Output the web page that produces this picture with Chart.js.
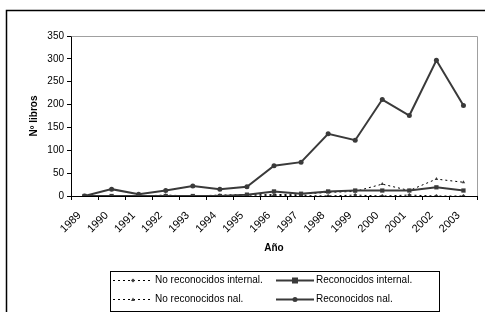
<!DOCTYPE html>
<html>
<head>
<meta charset="utf-8">
<script src="https://cdn.jsdelivr.net/npm/chart.js@4/dist/chart.umd.min.js"></script>
<style>
  html, body { margin: 0; padding: 0; background: #fff; }
  #wrap { width: 485px; height: 312px; position: relative; }
</style>
</head>
<body>
<div id="wrap"><canvas id="c" width="485" height="312"></canvas></div>
<script>
const years = ['1989','1990','1991','1992','1993','1994','1995','1996','1997','1998','1999','2000','2001','2002','2003'];
const noRecInternal = [0, 0, 0, 0, 0, 0, 0, 1, 1, 0, 2, 0, 2, 0, 0];
const recInternal   = [0, 0, 0, 0, 0, 0, 3, 10, 5, 10, 12, 12, 12, 19, 12];
const noRecNal      = [0, 0, 0, 2, 0, 2, 3, 3, 4, 8, 10, 26, 12, 37, 30];
const recNal        = [0, 15, 4, 12, 22, 15, 20, 66, 74, 136, 122, 211, 176, 297, 198];
const yTicks = [0, 50, 100, 150, 200, 250, 300, 350];
const labels = ['No reconocidos internal.', 'Reconocidos internal.', 'No reconocidos nal.', 'Reconocidos nal.'];

const FONT = "'Liberation Sans', Arial, sans-serif";
const DARK = '#3a3a3a';

function drawMarker(ctx, style, x, y, r, color) {
  ctx.save();
  ctx.fillStyle = color;
  ctx.strokeStyle = color;
  ctx.beginPath();
  if (style === 'rect') {
    ctx.rect(x - r, y - r, 2 * r, 2 * r);
  } else if (style === 'circle') {
    ctx.arc(x, y, r, 0, Math.PI * 2);
  } else if (style === 'rectRot') {
    ctx.moveTo(x, y - r); ctx.lineTo(x + r, y); ctx.lineTo(x, y + r); ctx.lineTo(x - r, y); ctx.closePath();
  } else if (style === 'triangle') {
    ctx.moveTo(x, y - r); ctx.lineTo(x + r, y + r * 0.8); ctx.lineTo(x - r, y + r * 0.8); ctx.closePath();
  }
  ctx.fill();
  ctx.restore();
}

const framePlugin = {
  id: 'frame',
  beforeDraw(chart) {
    const ctx = chart.ctx;
    ctx.save();
    ctx.fillStyle = '#fff';
    ctx.fillRect(0, 0, chart.width, chart.height);
    ctx.strokeStyle = '#000';
    ctx.lineWidth = 1.5;
    ctx.beginPath();
    ctx.moveTo(6.5, 312);
    ctx.lineTo(6.5, 10.5);
    ctx.lineTo(485, 10.5);
    ctx.stroke();
    ctx.restore();
  },
  beforeDatasetsDraw(chart) {
    const a = chart.chartArea;
    const ctx = chart.ctx;
    ctx.save();
    ctx.strokeStyle = '#a0a0a0';
    ctx.lineWidth = 1;
    ctx.beginPath();
    ctx.moveTo(Math.round(a.left) + 0.5, Math.round(a.top) + 0.5);
    ctx.lineTo(Math.round(a.right) + 0.5, Math.round(a.top) + 0.5);
    ctx.lineTo(Math.round(a.right) + 0.5, Math.round(a.bottom));
    ctx.stroke();
    ctx.restore();
  },
  afterDraw(chart) {
    const ctx = chart.ctx;
    ctx.save();
    ctx.strokeStyle = '#000';
    ctx.lineWidth = 1;
    ctx.strokeRect(110.5, 271.5, 329, 40);
    const cols = [{x0: 113, x1: 153, t: 155}, {x0: 276, x1: 314, t: 316}];
    const rows = [280, 299];
    ctx.font = '10px ' + FONT;
    ctx.textBaseline = 'middle';
    ctx.textAlign = 'left';
    chart.data.datasets.forEach((ds, i) => {
      const c = cols[i % 2];
      const y = rows[Math.floor(i / 2)];
      ctx.save();
      ctx.strokeStyle = ds.borderColor;
      ctx.lineWidth = ds.borderWidth;
      ctx.setLineDash(ds.borderDash || []);
      ctx.beginPath();
      ctx.moveTo(c.x0, y + 0.5);
      ctx.lineTo(c.x1, y + 0.5);
      ctx.stroke();
      ctx.restore();
      drawMarker(ctx, ds.pointStyle, (c.x0 + c.x1) / 2, y + 0.5, ds.pointRadius, ds.pointBackgroundColor);
      ctx.fillStyle = '#000';
      ctx.fillText(ds.label, c.t, y + 0.5);
    });
    ctx.restore();
  }
};

new Chart(document.getElementById('c'), {
  type: 'line',
  data: {
    labels: years,
    datasets: [
      { label: labels[0], data: noRecInternal, borderColor: '#000', borderWidth: 1, borderDash: [2, 3],
        pointStyle: 'rectRot', pointRadius: 2, pointBackgroundColor: DARK, pointBorderColor: DARK, pointBorderWidth: 0, order: 3 },
      { label: labels[1], data: recInternal, borderColor: DARK, borderWidth: 2, borderDash: [],
        pointStyle: 'rect', pointRadius: 3, pointBackgroundColor: DARK, pointBorderColor: DARK, pointBorderWidth: 0, order: 1 },
      { label: labels[2], data: noRecNal, borderColor: '#000', borderWidth: 1, borderDash: [2, 3],
        pointStyle: 'triangle', pointRadius: 2, pointBackgroundColor: DARK, pointBorderColor: DARK, pointBorderWidth: 0, order: 2 },
      { label: labels[3], data: recNal, borderColor: DARK, borderWidth: 2, borderDash: [],
        pointStyle: 'circle', pointRadius: 2.5, pointBackgroundColor: DARK, pointBorderColor: DARK, pointBorderWidth: 0, order: 0 }
    ]
  },
  options: {
    responsive: false,
    animation: false,
    devicePixelRatio: 1,
    layout: { padding: { top: 36, right: 8, bottom: 57, left: 0 } },
    plugins: { legend: { display: false }, tooltip: { enabled: false } },
    elements: { line: { tension: 0 } },
    scales: {
      x: {
        type: 'category',
        offset: true,
        grid: { display: true, drawOnChartArea: false, drawTicks: true, tickLength: 4, offset: true, color: '#000' },
        border: { display: true, color: '#000', width: 1 },
        ticks: { color: '#000', font: { family: FONT, size: 11 }, minRotation: 45, maxRotation: 45, padding: 9, labelOffset: -5, autoSkip: false },
        title: { display: true, text: 'Año', color: '#000', font: { family: FONT, size: 10, weight: 'bold' }, padding: { top: 0, bottom: 1 } },
        afterFit(scale) { scale.height = 59; }
      },
      y: {
        min: 0, max: 350,
        afterBuildTicks(scale) { scale.ticks = yTicks.map(v => ({ value: v })); },
        grid: { display: true, drawOnChartArea: false, drawTicks: true, tickLength: 4, color: '#000' },
        border: { display: true, color: '#000', width: 1 },
        ticks: { color: '#000', font: { family: FONT, size: 10 }, padding: 3 },
        title: { display: true, text: 'Nº libros', color: '#000', font: { family: FONT, size: 10, weight: 'bold' }, padding: { top: 28, bottom: 0 } },
        afterFit(scale) { scale.width = 71; }
      }
    }
  },
  plugins: [framePlugin]
});
</script>
</body>
</html>
